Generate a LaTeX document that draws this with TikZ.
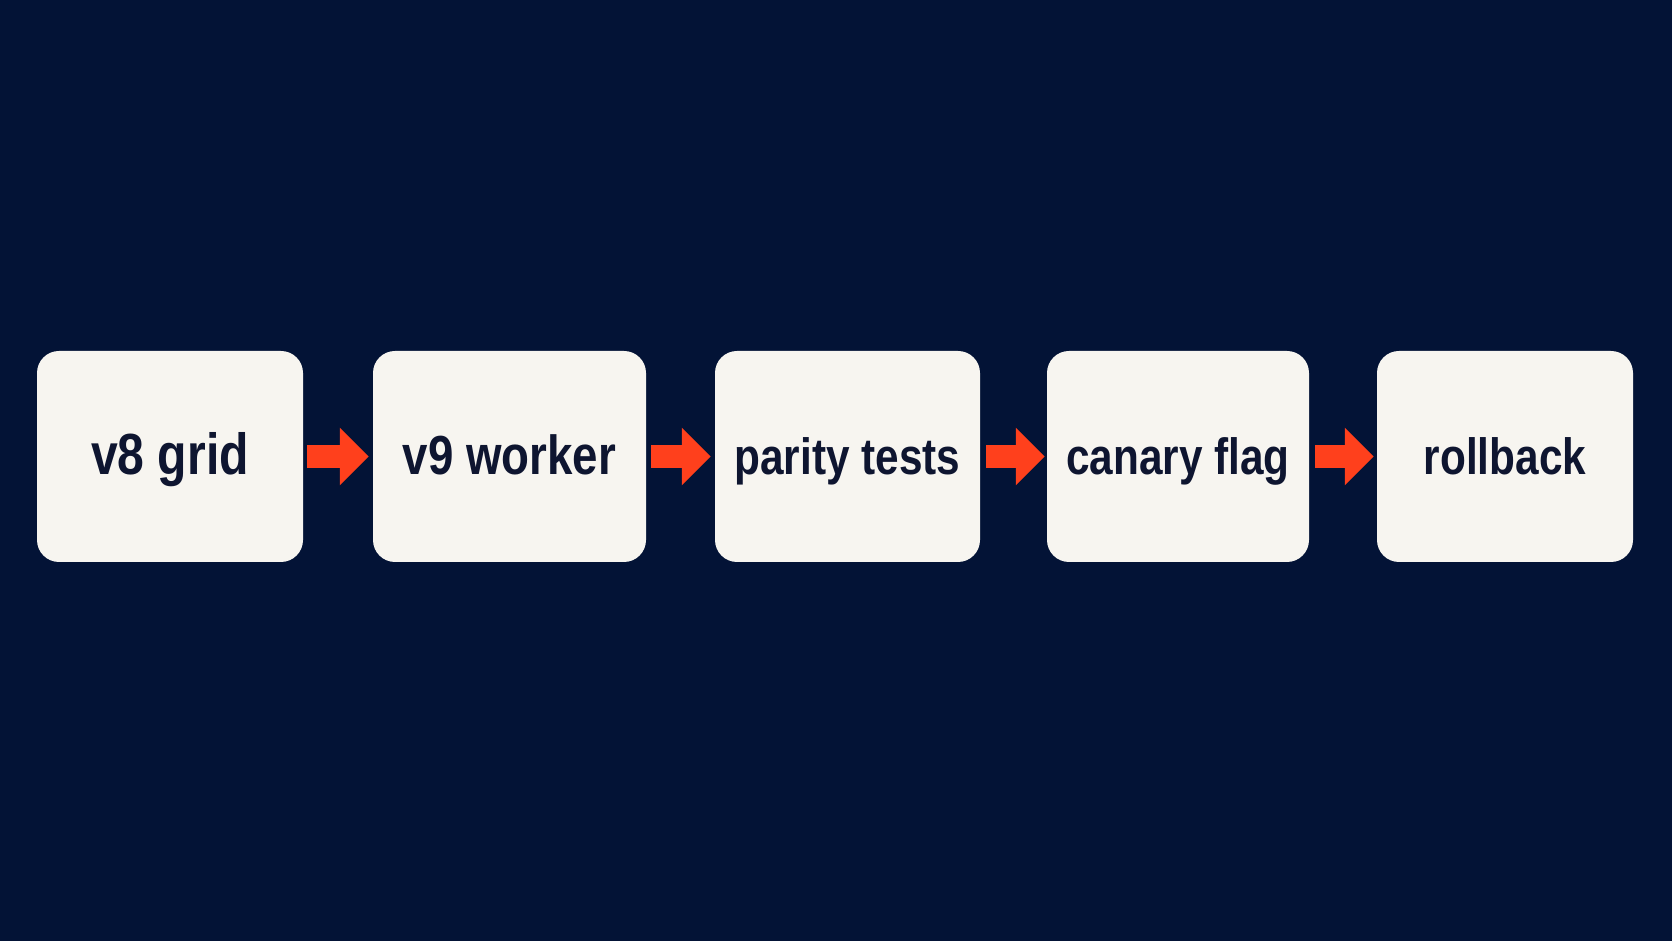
\documentclass[tikz,border=0pt]{standalone}
\usepackage{fontspec}
\setmainfont{Liberation Sans}
\newfontfamily\boxfont{Liberation Sans}[FakeStretch=0.83]
\usetikzlibrary{arrows.meta}
\definecolor{bgc}{RGB}{3,19,54}
\definecolor{boxc}{RGB}{247,245,240}
\definecolor{txtc}{RGB}{14,21,48}
\definecolor{arrc}{RGB}{255,64,28}
\tikzset{
  stepbox/.style={fill=boxc, rounded corners=22pt, inner sep=0pt, minimum height=211pt,
    text=txtc, text height=46pt, text depth=10pt,
    font=\boxfont\bfseries\fontsize{51}{60}\selectfont},
  flow/.style={draw=arrc, line width=23pt, -{Triangle[length=29pt,width=56pt]}}
}
\begin{document}
\begin{tikzpicture}[x=1pt,y=1pt]
\fill[bgc] (0,0) rectangle (1672,941);
\useasboundingbox (0,0) rectangle (1672,941);
\node[stepbox, minimum width=266pt, font=\boxfont\bfseries\fontsize{58}{66}\selectfont] (a) at (170,484.5) {v8 grid};
\node[stepbox, minimum width=273pt, font=\boxfont\bfseries\fontsize{55}{64}\selectfont] (b) at (509.5,484.5) {v9 worker};
\node[stepbox, minimum width=265pt] (c) at (847.5,484.5) {parity tests};
\node[stepbox, minimum width=262pt] (d) at (1178,484.5) {canary flag};
\node[stepbox, minimum width=256pt] (e) at (1505,484.5) {rollback};
\draw[flow] ([xshift=4pt]a.east) -- ([xshift=-4pt]b.west);
\draw[flow] ([xshift=5pt]b.east) -- ([xshift=-4pt]c.west);
\draw[flow] ([xshift=6pt]c.east) -- ([xshift=-2pt]d.west);
\draw[flow] ([xshift=6pt]d.east) -- ([xshift=-3pt]e.west);
\end{tikzpicture}
\end{document}
